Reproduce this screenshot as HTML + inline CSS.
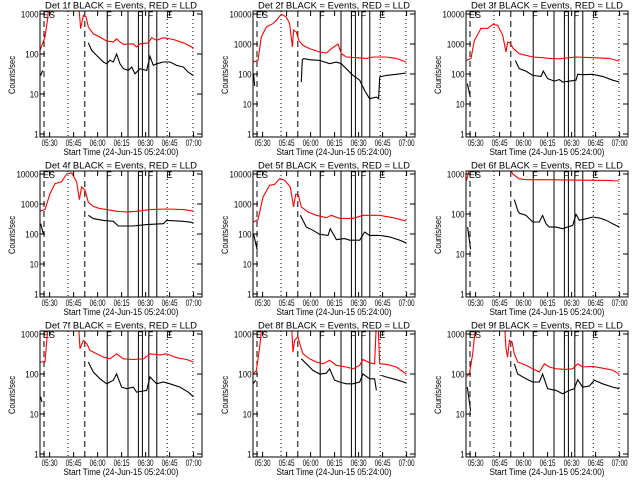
<!DOCTYPE html>
<html><head><meta charset="utf-8"><style>
html,body{margin:0;padding:0;background:#fff;}
svg{display:block;font-family:"Liberation Sans",sans-serif;}
</style></head><body>
<svg id="fig" width="640" height="480" viewBox="0 0 640 480" xmlns="http://www.w3.org/2000/svg">
<rect width="640" height="480" fill="#fff"/>
</svg>
<script>
// ---- data (minutes since 05:24:00, counts/sec) ----
const detNames = ["1f","2f","3f","4f","5f","6f","7f","8f","9f"];
const maxDecade = [3,4,4,4,4,3,3,3,3];
const tickClock = ["05:30","05:45","06:00","06:15","06:30","06:45","07:00"];
const tickMinutes = [6,21,36,51,66,81,96];
const eventTimes = [2.5,17.5,28,42,55,61.5,64,68,73,79.5,95.6];
const eventStyles = ["dash","dot","dash","solid","solid","solid","solid","solid","solid","dot","dot"];
const eventLetters = ["ES","","","F","","F","","F","","E",""];

const redTimes = [
 [0,3.1,4.6,5.8,24,25,25.4,27.1,28.8,30.2,33.3,37.5,41.7,45.8,47.9,50,52.1,58.3,60.4,62.5,67.7,69.8,72.9,77.1,83.3,89.6,94.8,95.8],
 [0,3.1,5.2,8.3,12.5,14.6,17.7,20.8,22.9,24.6,25.4,27.1,28.75,31.25,35.4,41.7,45.8,49,53.1,55.2,58.3,64.6,70.8,75,83.3,89.6,95.8],
 [0.4,3.1,5.2,9.4,13.5,16.7,19.8,22.9,25,26,27.5,29.6,33.3,37.5,41.7,47.9,52.1,58.3,68.75,79.2,89.6,95.8],
 [0,3.1,6.25,9.4,13.5,16.7,19.8,22.9,24.6,26,28.1,30.2,33.3,37.5,41.7,47.9,54.2,60.4,68.75,79.2,89.6,95.8],
 [0,3.1,6.25,10.4,13.5,16.7,19.8,23.3,25.4,26.7,28.3,30.2,34.4,39.6,45.8,49,54.2,62.5,68.75,79.2,87.5,95.8],
 [0.4,3.1,25,25.4,29.2,33.3,37.5,50,62.5,75,87.5,95.8],
 [0,3.1,5.2,24,25,27.1,29.2,31.25,35.4,39.6,43.75,47.9,52.1,58.3,64.6,68.75,75,79.2,85.4,91.7,95.8],
 [0,2.1,4.2,5.8,24,25,26,28.1,29.2,31.25,35.4,39.6,43.75,47.9,52.1,58.3,62.5,66.7,68.75,72.9,76,77.1,78.1,79.2,83.3,89.6,95.8],
 [0.4,2.1,4.2,6.25,24,25,26,27.1,28.75,30.2,32.3,37.5,41.7,45.8,49,52.1,56.25,62.5,66.7,69.8,72.9,79.2,85.4,91.7,95.8]
];
const redVals = [
 [123,266,690,2000,2000,690,430,930,850,475,320,265,210,200,240,200,175,180,150,180,190,255,220,255,230,190,150,135],
 [250,285,1700,3700,4800,6200,9800,8000,4800,800,2900,2500,1300,900,700,540,500,700,1000,480,370,350,330,370,370,330,250],
 [285,330,1300,3300,3300,4500,4200,2000,540,1150,1100,700,470,420,370,350,330,320,370,350,330,270],
 [580,650,2200,4800,5500,10000,11000,5500,1400,3700,2900,1150,830,700,650,570,540,570,650,680,650,580],
 [250,300,1700,4200,4500,7000,6200,3700,800,2100,2000,800,540,420,350,420,330,330,420,420,350,270],
 [690,2000,2000,2000,1000,760,720,720,710,700,690,670],
 [200,200,2000,2000,430,690,575,390,320,265,240,320,240,230,240,320,300,320,255,230,200],
 [100,123,475,2000,2000,350,690,850,575,320,240,200,180,220,165,150,135,165,230,190,180,2000,2000,180,175,150,100],
 [87,100,320,2000,2000,430,265,690,640,320,200,165,135,112,180,150,135,130,135,180,150,155,140,125,98]
];
const blackTimes = [
 [0.4,1.7,null,30.2,32.3,35.4,39.6,41.7,43.75,45.8,47.9,50,52.1,55.2,57.3,59.4,62.5,66.7,68.75,70.8,72.9,77.1,81.25,85.4,89.6,92.7,95.8],
 [0.4,1.0,null,30.2,30.8,31.7,35.4,41.7,47.9,52.1,55.2,58.3,62.5,66.7,69.8,72.9,77.1,78.5,79.2,83.3,89.6,95.8],
 [0.8,2.7,null,30.8,33.3,37.5,41.7,46.9,48.3,51,55.2,58.3,60.4,68.75,69.8,72.9,79.2,85.4,91.7,95.8],
 [0.4,2.1,null,30.2,33.3,39.6,45.8,49,58.3,66.7,77.1,79.2,87.5,93.75,95.8],
 [0.4,2.7,null,29.6,33.3,37.5,41.7,46.9,48.3,52.1,57.3,60.4,66.7,69.8,72.9,79.2,85.4,91.7,95.8],
 [1,2.9,null,30.2,32.3,33.3,37.5,41.7,45.8,47.9,50,52.1,56.25,60.4,66.7,68.75,70.8,75,79.2,83.3,87.5,91.7,95.8],
 [0.4,1.2,null,30.2,33.3,37.5,41.7,45.8,47.9,51,54.2,58.3,60.4,66.7,68.75,72.9,77.1,81.25,87.5,92.7,95.8],
 [0,1.7,null,30.2,33.3,37.5,41.7,45.8,47.9,51,54.2,58.3,62.5,66.7,68.75,72.9,76,77.1,null,80.2,83.3,89.6,95.8],
 [0.8,2.9,null,30.2,32.3,37.5,41.7,45.8,47.9,51,56.25,60.4,64.6,67.7,69.8,72.9,77.1,80.2,85.4,91.7,95.8]
];
const blackVals = [
 [29,39,null,190,123,92,63,57,70,63,100,57,43,39,47,32,43,39,87,52,57,63,63,52,47,35,29],
 [100,40,null,54,300,325,300,285,220,250,220,150,90,62,28,15,17,15,80,90,98,108],
 [48,17,null,285,150,125,90,83,125,70,58,65,54,62,98,95,98,83,62,54],
 [220,100,null,420,325,285,265,185,185,205,220,285,270,250,235],
 [100,28,null,420,170,133,98,90,150,65,70,62,62,117,90,90,80,62,50],
 [47,13,null,230,123,105,92,63,63,92,57,47,47,43,52,98,70,76,84,80,70,57,47],
 [27,20,null,200,112,76,57,70,100,47,43,47,35,39,84,57,63,57,47,35,27],
 [57,70,null,240,180,123,100,105,135,70,63,57,57,63,100,76,76,39,null,92,84,72,60],
 [47,12,null,180,100,76,63,63,100,43,39,32,39,43,72,47,50,70,57,47,43]
];

// ---- drawing ----
const NS = "http://www.w3.org/2000/svg";
const svg = document.getElementById("fig");
function mk(tag, attrs, parent){
  const e = document.createElementNS(NS, tag);
  for (const k in attrs) e.setAttribute(k, attrs[k]);
  (parent||svg).appendChild(e);
  return e;
}
const X0 = 40, X1 = 202, Y0 = 11, Y1 = 137, PXMIN = 1.6;

detNames.forEach((det, i) => {
  const ox = (i % 3) * 213, oy = Math.floor(i / 3) * 160;
  const dec = maxDecade[i];
  const pxDec = dec === 3 ? 40 : 30;
  const xs = t => ox + X0 + PXMIN * t;
  const ys = v => oy + 134 - pxDec * Math.log10(v);
  const g = mk("g", {});
  
  

  const cp = mk("clipPath", {id: "clip" + i}, g);
  mk("rect", {x: ox + X0, y: oy + Y0, width: X1 - X0, height: Y1 - Y0}, cp);

  const title = mk("text", {x: ox + 121, y: oy + 8.5, "font-size": 9.5, "text-anchor": "middle", textLength: 152, lengthAdjust: "spacingAndGlyphs"}, g);
  title.textContent = "Det " + det + " BLACK = Events, RED = LLD";
  
  

  eventTimes.forEach((t, k) => {
    const x = xs(t);
    const st = eventStyles[k];
    const ln = mk("line", {x1: x, x2: x, y1: oy + Y0, y2: oy + Y1, stroke: "#000", "stroke-width": 1,
      "stroke-dasharray": st === "dash" ? "6,4" : (st === "dot" ? "1,3" : "none")}, g);
    
    
    if (eventLetters[k]) {
      const lt = mk("text", {x: x - 1, y: oy + 18, "font-size": 9}, g);
      lt.textContent = eventLetters[k];
      
      
    }
  });

  function series(times, vals, color, name){
    let d = "", pen = false;
    for (let k = 0; k < times.length; k++) {
      if (times[k] === null || vals[k] === null) { pen = false; continue; }
      d += (pen ? "L" : "M") + xs(times[k]).toFixed(1) + "," + ys(vals[k]).toFixed(1);
      pen = true;
    }
    const p = mk("path", {d: d, fill: "none", stroke: color, "stroke-width": 1.1, "clip-path": "url(#clip" + i + ")"}, g);
    
    
  }
  series(redTimes[i], redVals[i], "#ff0000", "lld-series");
  series(blackTimes[i], blackVals[i], "#000000", "events-series");

  const fr = mk("rect", {x: ox + X0, y: oy + Y0, width: X1 - X0, height: Y1 - Y0, fill: "none", stroke: "#000", "stroke-width": 1}, g);
  
  

  for (let e = 0; e <= dec; e++) {
    const y = ys(Math.pow(10, e));
    mk("line", {x1: ox + X0, x2: ox + X0 + 5, y1: y, y2: y, stroke: "#000"}, g);
    mk("line", {x1: ox + X1, x2: ox + X1 - 5, y1: y, y2: y, stroke: "#000"}, g);
    const lab = String(Math.pow(10, e));
    const tx = mk("text", {x: ox + 38.5, y: y + 3.5, "font-size": 9, "text-anchor": "end", textLength: lab.length * 4.4, lengthAdjust: "spacingAndGlyphs"}, g);
    tx.textContent = lab;
    
    
  }
  tickMinutes.forEach((t, k) => {
    const x = xs(t);
    mk("line", {x1: x, x2: x, y1: oy + Y1, y2: oy + Y1 - 5, stroke: "#000"}, g);
    mk("line", {x1: x, x2: x, y1: oy + Y0, y2: oy + Y0 + 5, stroke: "#000"}, g);
    const tx = mk("text", {x: x, y: oy + 146, "font-size": 9, "text-anchor": "middle", textLength: 16, lengthAdjust: "spacingAndGlyphs"}, g);
    tx.textContent = tickClock[k];
    
    
  });
  const xt = mk("text", {x: ox + 121, y: oy + 155, "font-size": 9, "text-anchor": "middle", textLength: 115, lengthAdjust: "spacingAndGlyphs"}, g);
  xt.textContent = "Start Time (24-Jun-15 05:24:00)";
  
  
  const yt = mk("text", {x: 0, y: 0, "font-size": 9, "text-anchor": "middle", textLength: 38, lengthAdjust: "spacingAndGlyphs",
    transform: "translate(" + (ox + 15) + "," + (oy + 75) + ") rotate(-90)"}, g);
  yt.textContent = "Counts/sec";
  
  
});
</script>
</body></html>
